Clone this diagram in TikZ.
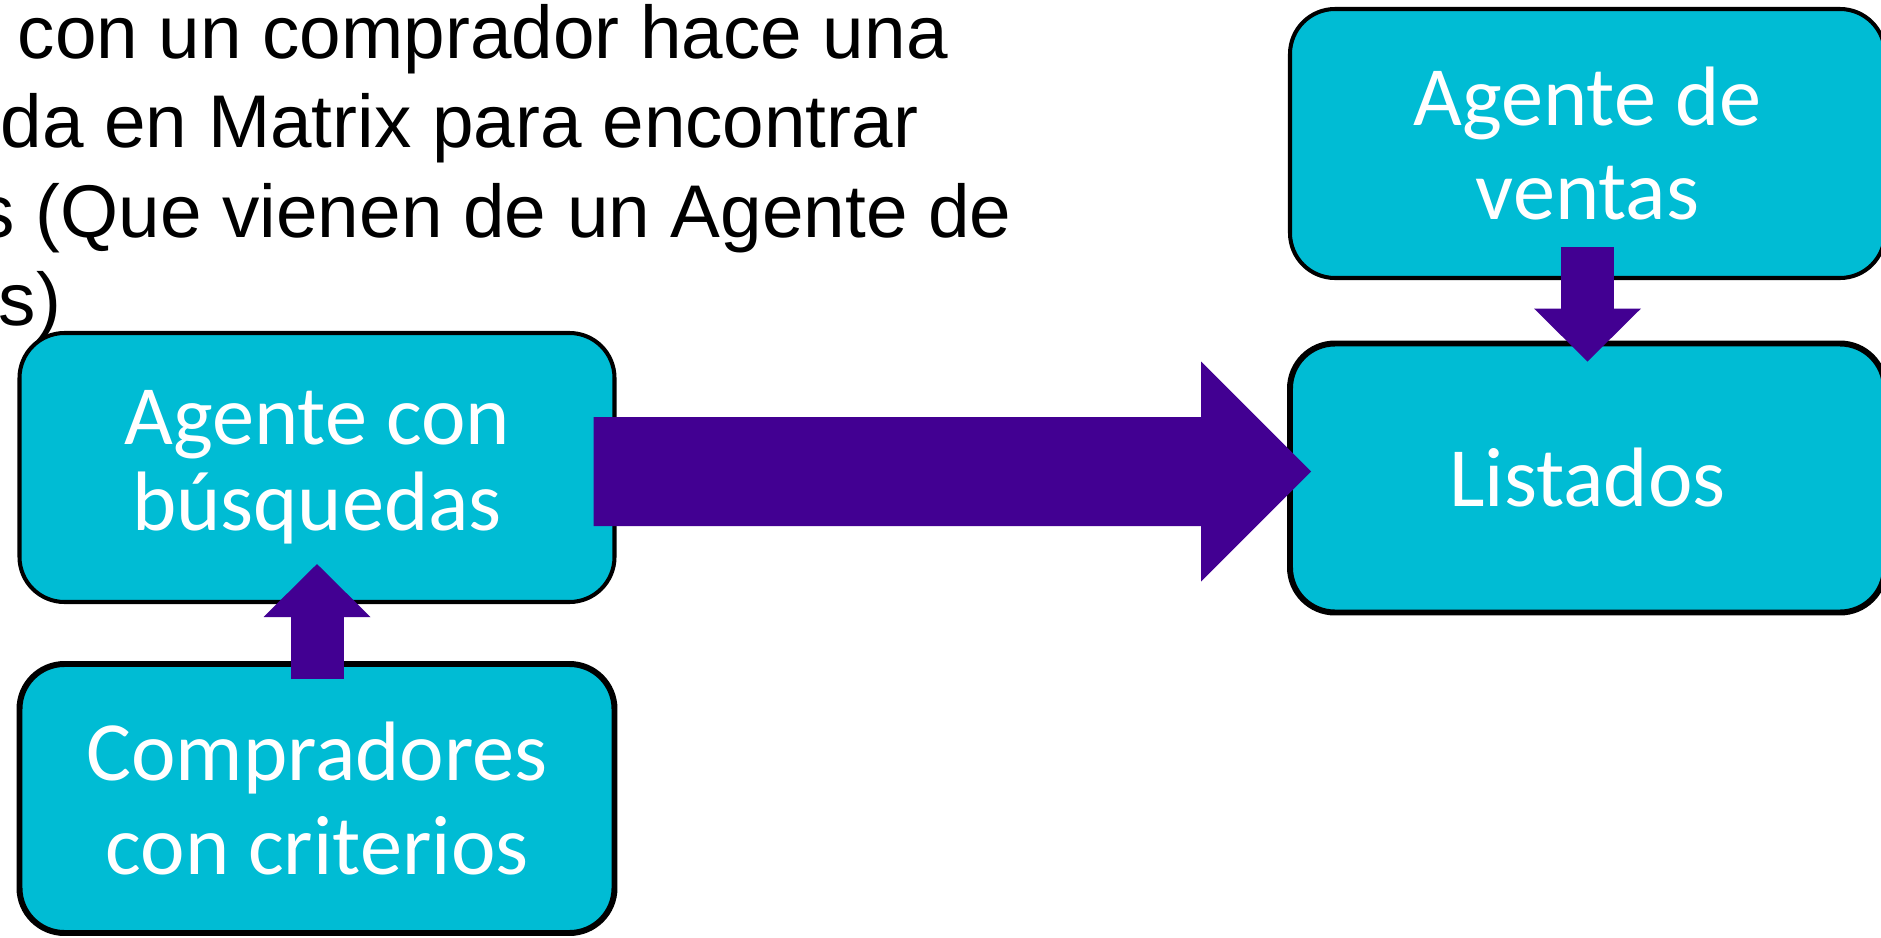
\documentclass[tikz,border=0pt]{standalone}
\usepackage{fontspec}
\setmainfont{Liberation Sans}
\newfontfamily\cajafont{Carlito}
\usetikzlibrary{arrows.meta,positioning,calc}
\definecolor{cian}{RGB}{0,188,212}
\definecolor{morado}{RGB}{66,0,146}

\begin{document}
\begin{tikzpicture}[
  caja/.style={draw=black, fill=cian, rounded corners=0.45cm, minimum width=5.95cm, minimum height=2.69cm, align=center, text=white},
  flecha/.style={draw=morado, line width=0.53cm, -{Triangle[length=0.53cm, width=1.07cm, line width=0pt]}},
  flechagrande/.style={draw=morado, line width=1.09cm, -{Triangle[length=1.10cm, width=2.20cm, line width=0pt]}},
  texto/.style={anchor=base west, inner sep=0pt, font=\fontsize{21.25}{25}\selectfont}
]
\useasboundingbox (0,0) rectangle (18.81,9.37);

% texto de arriba, cortado por la izquierda
\node[texto] (linea1) at (0.17,8.79) {con un comprador hace una};
\node[texto] (linea2) at (0,7.90) {da en Matrix para encontrar};
\node[texto] (linea3) at (-0.23,7.00) {s (Que vienen de un Agente de};
\node[texto] (linea4) at (-0.02,6.12) {s)};

% cajas
\node[caja, line width=1.15pt, font=\cajafont\fontsize{24}{24.5}\selectfont] (busq) at (3.17,4.695) {Agente con\\búsquedas};
\node[caja, line width=1.7pt, font=\cajafont\fontsize{24}{26.7}\selectfont] (comp) at (3.17,1.385) {Compradores\\con criterios};
\node[caja, line width=1.15pt, font=\cajafont\fontsize{24}{26.5}\selectfont] (ventas) at (15.875,7.935) {Agente de\\ventas};
\node[caja, line width=1.7pt, font=\cajafont\fontsize{24}{26.5}\selectfont] (list) at (15.875,4.59) {Listados};

% flechas
\draw[flecha] ([yshift=-0.18cm]comp.north) -- ([yshift=0.40cm]busq.south);
\draw[flecha] ([yshift=0.33cm]ventas.south) -- ([yshift=-0.21cm]list.north);
\draw[flechagrande] ([xshift=-0.23cm,yshift=-0.04cm]busq.east) -- ([xshift=0.24cm,yshift=0.065cm]list.west);
\end{tikzpicture}
\end{document}
